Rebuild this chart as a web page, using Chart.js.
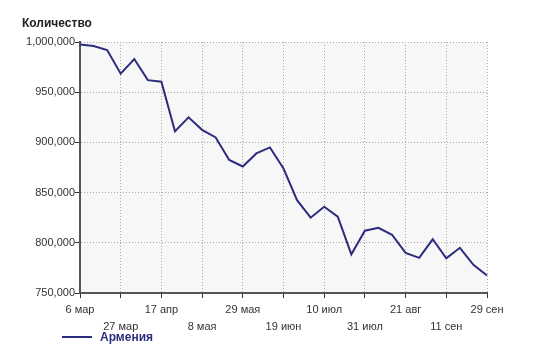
<!DOCTYPE html>
<html>
<head>
<meta charset="utf-8">
<script src="https://cdn.jsdelivr.net/npm/chart.js@4"></script>
<style>
  html, body { margin: 0; padding: 0; background: #fff; }
  #wrap { position: relative; width: 546px; height: 354px; }
  #myChart { position: absolute; left: 0; top: 0; }
  .title { position: absolute; left: 22px; top: 16px; font: bold 12px "Liberation Sans", Arial, sans-serif; color: #222; }
  .legend { position: absolute; left: 62px; top: 330px; font: bold 12px "Liberation Sans", Arial, sans-serif; color: #2d2d7d; }
  .legend span.swatch { display: inline-block; width: 30px; height: 2px; background: #2d2d7d; vertical-align: middle; margin-right: 8px; position: relative; top: -1px; }
</style>
</head>
<body>
<div id="wrap">
  <canvas id="myChart" width="546" height="354"></canvas>
  <div class="title">Количество</div>
  <div class="legend"><span class="swatch"></span>Армения</div>
</div>
<script>
// weekly points, axis shows every third date
const dates = [
    '6 мар', '13 мар', '20 мар', '27 мар', '3 апр', '10 апр', '17 апр', '24 апр',
    '1 мая', '8 мая', '15 мая', '22 мая', '29 мая', '5 июн', '12 июн', '19 июн',
    '26 июн', '3 июл', '10 июл', '17 июл', '24 июл', '31 июл', '7 авг', '14 авг',
    '21 авг', '28 авг', '4 сен', '11 сен', '18 сен', '25 сен', '29 сен'
];
const armeniaValues = [
    997500, 996000, 992000, 968500, 983000, 962000, 960500, 911000,
    925000, 912500, 905000, 882500, 876000, 889000, 895000, 874000,
    842500, 825000, 836000, 826000, 788500, 812000, 815000, 808000,
    790000, 785000, 803500, 784500, 795000, 778000, 767500
];
const seriesName = 'Армения';
const yTicks = { min: 750000, max: 1000000, step: 50000 };

const plotBackground = {
    id: 'plotBackground',
    beforeDraw(chart) {
        const { ctx, chartArea } = chart;
        ctx.save();
        ctx.fillStyle = '#f7f7f7';
        ctx.fillRect(chartArea.left, chartArea.top, chartArea.right - chartArea.left, chartArea.bottom - chartArea.top);
        ctx.restore();
    }
};

const shown = (i) => i % 3 === 0;

const ctx = document.getElementById('myChart').getContext('2d');
new Chart(ctx, {
    type: 'line',
    data: {
        labels: dates,
        datasets: [{
            label: seriesName,
            data: armeniaValues,
            borderColor: '#2d2d7d',
            borderWidth: 2,
            pointRadius: 0,
            tension: 0,
            fill: false
        }]
    },
    options: {
        responsive: false,
        animation: false,
        layout: { padding: { left: 0, right: 59, top: 42, bottom: 0 } },
        plugins: {
            legend: { display: false },
            tooltip: { enabled: false }
        },
        scales: {
            x: {
                type: 'category',
                offset: false,
                afterFit: (scale) => { scale.height = 61; },
                grid: {
                    color: (c) => shown(c.index) ? '#aaaaaa' : 'rgba(0,0,0,0)',
                    tickColor: (c) => shown(c.index) ? '#333333' : 'rgba(0,0,0,0)',
                    tickLength: 5,
                    lineWidth: 1
                },
                border: { color: '#555555', width: 2, dash: [1, 2] },
                ticks: {
                    autoSkip: false,
                    maxRotation: 0,
                    padding: 4,
                    color: '#333333',
                    font: { family: '"Liberation Sans", Arial, sans-serif', size: 11, lineHeight: 1.5 },
                    callback: function (value, index) {
                        if (!shown(index)) return '';
                        const label = this.getLabelForValue(value);
                        return (index / 3) % 2 === 0 ? label : ['', label];
                    }
                }
            },
            y: {
                min: yTicks.min,
                max: yTicks.max,
                afterFit: (scale) => { scale.width = 80; },
                grid: {
                    color: '#aaaaaa',
                    tickColor: '#333333',
                    tickLength: 5,
                    lineWidth: 1
                },
                border: { color: '#555555', width: 2, dash: [1, 2] },
                ticks: {
                    stepSize: yTicks.step,
                    padding: 0,
                    color: '#333333',
                    font: { family: '"Liberation Sans", Arial, sans-serif', size: 11 },
                    callback: (v) => v.toLocaleString('en-US')
                }
            }
        }
    },
    plugins: [plotBackground]
});
</script>
</body>
</html>
